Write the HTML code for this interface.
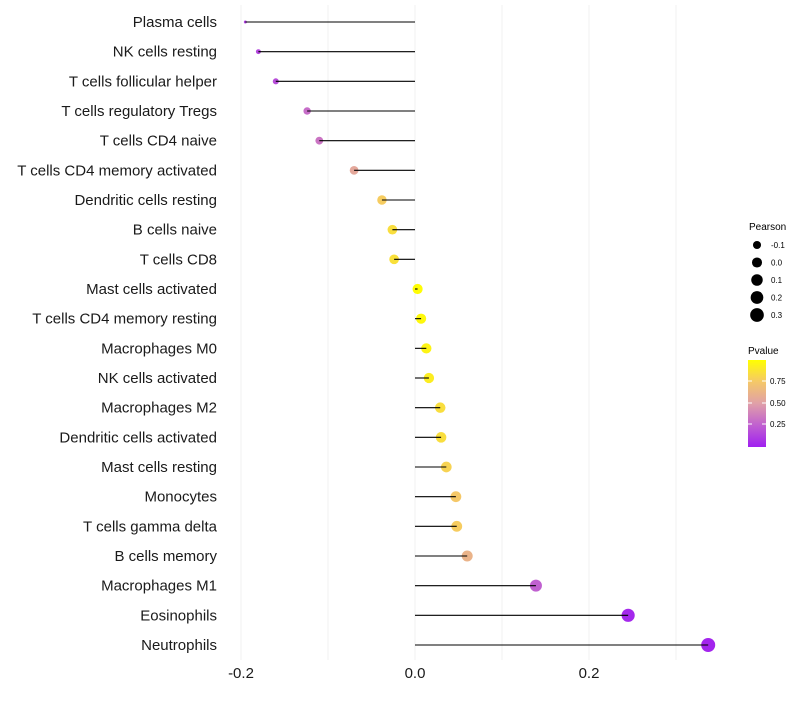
<!DOCTYPE html>
<html><head><meta charset="utf-8"><style>
body{margin:0;background:#fff;font-family:"Liberation Sans",sans-serif}
</style></head><body>
<svg id="c" width="800" height="700" xmlns="http://www.w3.org/2000/svg">
<defs><linearGradient id="pg" x1="0" y1="1" x2="0" y2="0">
<stop offset="0" stop-color="#a020f0"/><stop offset="0.25" stop-color="#c060d0"/><stop offset="0.5" stop-color="#e0a0a8"/><stop offset="0.75" stop-color="#f5c868"/><stop offset="1" stop-color="#ffff00"/></linearGradient></defs>
<g id="grid"></g><g id="marks"></g><g id="ylab"></g><g id="xlab"></g>
<g font-size="8" fill="#000">
<text x="749" y="230" font-size="10">Pearson</text>
<g id="sizeleg"></g></g>
<g font-size="8">
<text x="748" y="354" font-size="10">Pvalue</text>
<rect x="748" y="360" width="18" height="87" fill="url(#pg)"/>
<line x1="748" x2="752" y1="381" y2="381" stroke="#fff"/><line x1="762" x2="766" y1="381" y2="381" stroke="#fff"/>
<line x1="748" x2="752" y1="403" y2="403" stroke="#fff"/><line x1="762" x2="766" y1="403" y2="403" stroke="#fff"/>
<line x1="748" x2="752" y1="424" y2="424" stroke="#fff"/><line x1="762" x2="766" y1="424" y2="424" stroke="#fff"/>
<text x="770" y="384">0.75</text><text x="770" y="406">0.50</text><text x="770" y="427">0.25</text>
</g>
</svg>
<script>
const categories=["Plasma cells","NK cells resting","T cells follicular helper","T cells regulatory  Tregs","T cells CD4 naive","T cells CD4 memory activated","Dendritic cells resting","B cells naive","T cells CD8","Mast cells activated","T cells CD4 memory resting","Macrophages M0","NK cells activated","Macrophages M2","Dendritic cells activated","Mast cells resting","Monocytes","T cells gamma delta","B cells memory","Macrophages M1","Eosinophils","Neutrophils"];
const pearson=[-0.195,-0.180,-0.160,-0.124,-0.110,-0.070,-0.038,-0.026,-0.024,0.003,0.007,0.013,0.016,0.029,0.030,0.036,0.047,0.048,0.060,0.139,0.245,0.337];
const pvalue=[0.12,0.15,0.18,0.3,0.33,0.55,0.77,0.85,0.86,0.99,0.97,0.95,0.92,0.85,0.85,0.8,0.75,0.77,0.62,0.25,0.03,0.02];
const xTicks=[-0.2,0.0,0.2];
const xTickLabels=["-0.2","0.0","0.2"];
const gridVals=[-0.2,-0.1,0,0.1,0.2,0.3];
const sizeLegVals=[-0.1,0.0,0.1,0.2,0.3];
const NS="http://www.w3.org/2000/svg";
const x=v=>415+v*870;
const y=i=>22+i*(623/(categories.length-1));
const vmin=Math.min(...pearson),vmax=Math.max(...pearson);
const rad=v=>Math.sqrt(2.25+Math.pow(Math.max(0,(v-vmin)/(vmax-vmin)),0.7)*46.75);
const stops=[[0,"#a020f0"],[0.25,"#c060d0"],[0.5,"#e0a0a8"],[0.75,"#f5c868"],[1,"#ffff00"]];
function mix(a,b,t){const p=s=>[1,3,5].map(k=>parseInt(s.substr(k,2),16));const A=p(a),B=p(b);return "rgb("+A.map((c,i)=>Math.round(c+(B[i]-c)*t)).join(",")+")";}
function col(p){for(let i=0;i<stops.length-1;i++){if(p<=stops[i+1][0]){return mix(stops[i][1],stops[i+1][1],(p-stops[i][0])/(stops[i+1][0]-stops[i][0]));}}return stops[stops.length-1][1];}
function el(t,a,parent){const e=document.createElementNS(NS,t);for(const k in a)e.setAttribute(k,a[k]);parent.appendChild(e);return e;}
const G=document.getElementById("grid"),M=document.getElementById("marks"),YL=document.getElementById("ylab"),XL=document.getElementById("xlab"),SL=document.getElementById("sizeleg");
gridVals.forEach(v=>{const l=el("line",{x1:x(v),x2:x(v),y1:5,y2:660,stroke:"#f0f0f0","stroke-width":1},G);

});
categories.forEach((c,i)=>{
 const t=el("text",{x:217,y:y(i)+5,"text-anchor":"end","font-size":15,fill:"#1a1a1a"},YL);t.textContent=c;
 
 
 const d=el("circle",{cx:x(pearson[i]),cy:y(i),r:rad(pearson[i]),fill:col(pvalue[i])},M);
 
 
 const ln=el("line",{x1:x(0),x2:x(pearson[i]),y1:y(i),y2:y(i),stroke:"#000","stroke-width":1.1},M);
 
 
});
xTicks.forEach((v,i)=>{const t=el("text",{x:x(v),y:678,"text-anchor":"middle","font-size":15,fill:"#1a1a1a"},XL);t.textContent=xTickLabels[i];

});
sizeLegVals.forEach((v,i)=>{const cy=245+i*17.5;
const c=el("circle",{cx:757,cy:cy,r:rad(v),fill:"#000"},SL);


const t=el("text",{x:771,y:cy+3,"font-size":8},SL);t.textContent=v.toFixed(1);

});
</script>
</body></html>
